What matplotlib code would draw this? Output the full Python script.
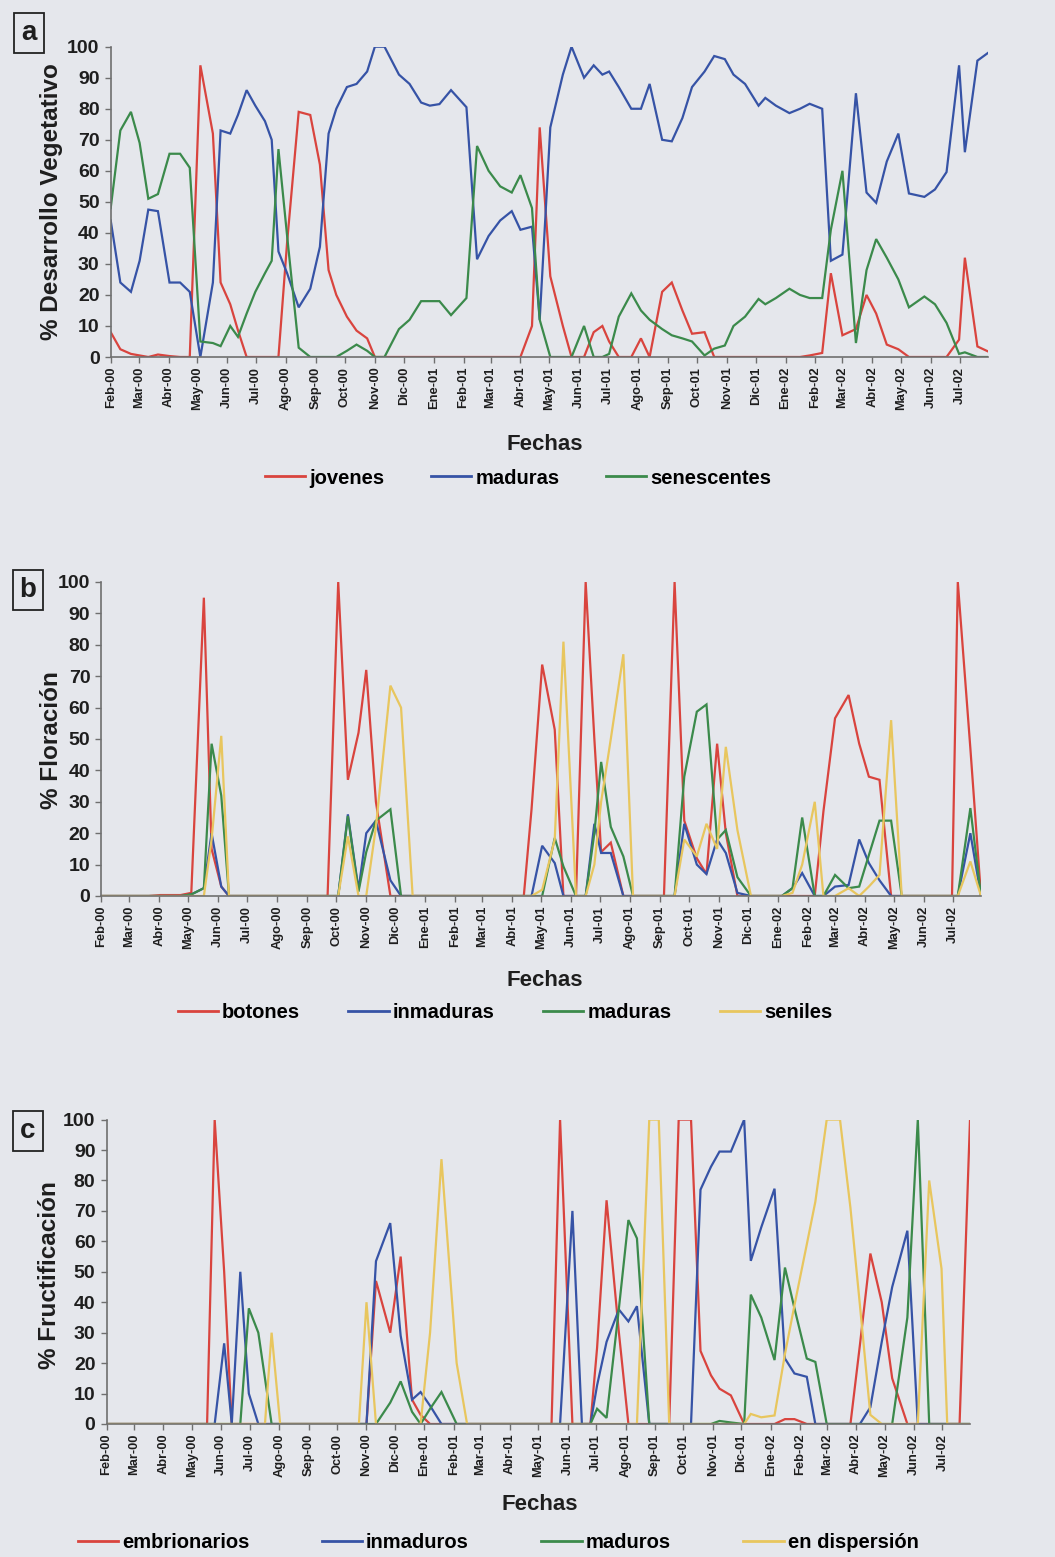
import numpy as np
import pandas as pd
import matplotlib
matplotlib.use("Agg")
import matplotlib.pyplot as plt
from matplotlib.lines import Line2D

# fechas de muestreo (dias desde 1-feb-2000)
dias = [0, 10, 21, 30, 39, 49, 61, 72, 82, 93,
        106, 114, 124, 132, 141, 150, 160, 167, 174, 183,
        195, 207, 217, 226, 234, 245, 255, 266, 274, 284,
        299, 310, 322, 331, 341, 353, 369, 380, 392, 404,
        416, 425, 437, 445, 456, 469, 478, 491, 501, 510,
        517, 527, 540, 550, 559, 572, 582, 593, 603, 616,
        626, 637, 646, 658, 672, 679, 690, 704, 715, 725,
        738, 747, 759, 773, 784, 794, 805, 817, 828, 844,
        855, 867, 880, 886, 899, 910]

meses = ['Feb-00', 'Mar-00', 'Abr-00', 'May-00', 'Jun-00', 'Jul-00', 'Ago-00', 'Sep-00',
         'Oct-00', 'Nov-00', 'Dic-00', 'Ene-01', 'Feb-01', 'Mar-01', 'Abr-01', 'May-01',
         'Jun-01', 'Jul-01', 'Ago-01', 'Sep-01', 'Oct-01', 'Nov-01', 'Dic-01', 'Ene-02',
         'Feb-02', 'Mar-02', 'Abr-02', 'May-02', 'Jun-02', 'Jul-02']

# a) desarrollo vegetativo
jovenes = [8, 2.5, 1, 0.5, 0, 0.8, 0.3, 0, 0, 94,
           72, 24, 17, 8.6, 0, 0, 0, 0, 0, 37,
           79, 78, 62, 28, 20, 13, 8.5, 6, 0, 0,
           0, 0, 0, 0, 0, 0, 0, 0, 0, 0,
           0, 0, 10, 74, 26, 10, 0, 0, 8, 10,
           5, 0, 0, 6, 0, 21, 24, 15, 7.5, 8,
           0, 0, 0, 0, 0, 0, 0, 0, 0, 0.5,
           1.3, 27, 7, 9, 20, 14, 4, 2.5, 0, 0,
           0, 0, 5.6, 32, 3.4, 1.8]
maduras_a = [44, 24, 21, 31, 47.5, 47, 24, 24, 21, 0,
             24, 73, 72, 78, 86, 81, 76, 70, 34, 27,
             16, 22, 35.5, 72, 80, 87, 88, 92, 100, 100,
             91, 88, 82, 81, 81.5, 86, 80.5, 31.5, 39, 44,
             47, 41, 42, 12, 74, 91, 100, 90, 94, 91,
             92, 87, 80, 80, 88, 70, 69.5, 77, 87, 92,
             97, 96, 91, 88, 81, 83.5, 81, 78.6, 80, 81.6,
             80, 31, 33, 85, 53, 49.7, 63, 72, 52.7, 51.6,
             54, 59.6, 94, 66, 95.5, 98]
senescentes = [48, 73, 79, 69, 51, 52.5, 65.5, 65.5, 61, 5,
               4.5, 3.5, 10, 6.5, 14, 21, 27, 31, 67, 39,
               3, 0, 0, 0, 0, 2, 4, 2, 0, 0,
               9, 12, 18, 18, 18, 13.5, 19, 68, 60, 55,
               53, 58.6, 48, 12, 0, 0, 0, 10, 0, 0,
               1, 13, 20.5, 15, 12, 9, 7, 6, 5, 0.5,
               2.7, 3.7, 10, 13, 18.7, 17, 19, 22, 20, 19,
               19, 41, 60, 4.5, 28, 38, 32, 25, 16, 19.5,
               17, 11, 1, 1.5, 0, 0]

# b) floracion
botones = [0, 0, 0, 0, 0, 0, 0.3, 0.3, 0.3, 1,
           95, 15, 3, 0, 0, 0, 0, 0, 0, 0,
           0, 0, 0, 0, 0, 100, 37, 52, 72, 30,
           0, 0, 0, 0, 0, 0, 0, 0, 0, 0,
           0, 0, 0, 27.6, 73.7, 53, 0, 0, 100, 50,
           14, 17, 0, 0, 0, 0, 0, 100, 24, 12,
           7, 48.5, 20, 0, 0, 0, 0, 0, 0, 0,
           0, 27, 56.6, 64, 48.5, 38, 37, 0, 0, 0,
           0, 0, 0, 100, 47, 0]
inmaduras = [0, 0, 0, 0, 0, 0, 0, 0, 0, 0.5,
             2.5, 20, 3, 0, 0, 0, 0, 0, 0, 0,
             0, 0, 0, 0, 0, 0, 26, 2, 20, 24,
             5, 0, 0, 0, 0, 0, 0, 0, 0, 0,
             0, 0, 0, 0, 16, 10.5, 0, 0, 0, 23,
             13.7, 13.7, 0, 0, 0, 0, 0, 0, 23, 10,
             7, 18, 13.7, 1, 0, 0, 0, 0, 2.5, 7.3,
             0, 0, 3, 3.5, 18, 10.5, 5, 0, 0, 0,
             0, 0, 0, 0, 20, 0]
maduras_b = [0, 0, 0, 0, 0, 0, 0, 0, 0, 0.5,
             2.5, 48.5, 32, 0, 0, 0, 0, 0, 0, 0,
             0, 0, 0, 0, 0, 0, 25.5, 1.4, 14, 24,
             27.6, 0, 0, 0, 0, 0, 0, 0, 0, 0,
             0, 0, 0, 0, 0, 18.5, 9.4, 0, 0, 20,
             42.7, 22, 12.6, 0, 0, 0, 0, 0, 38, 58.7,
             61, 18, 21, 6, 0, 0, 0, 0, 2.5, 25,
             0, 0, 6.7, 2.5, 3, 13, 24, 24, 0, 0,
             0, 0, 0, 0, 28, 0]
seniles = [0, 0, 0, 0, 0, 0, 0, 0, 0, 0,
           0, 18, 51, 0, 0, 0, 0, 0, 0, 0,
           0, 0, 0, 0, 0, 0, 19, 0, 0, 22,
           67, 60, 0, 0, 0, 0, 0, 0, 0, 0,
           0, 0, 0, 0, 2, 18, 81, 0, 0, 10,
           30, 50, 77, 0, 0, 0, 0, 0, 18, 12.6,
           23, 15, 47.5, 21, 0, 0, 0, 0, 1, 10,
           30, 0, 0, 2.5, 0, 3, 6.7, 56, 0, 0,
           0, 0, 0, 0, 11, 0]

# c) fructificacion
embrionarios = [0, 0, 0, 0, 0, 0, 0, 0, 0, 0,
                0, 100, 50, 0, 0, 0, 0, 0, 0, 0,
                0, 0, 0, 0, 0, 0, 0, 0, 0, 47,
                30, 55, 8, 3, 0, 0, 0, 0, 0, 0,
                0, 0, 0, 0, 0, 0, 100, 0, 0, 0,
                25, 73.5, 30, 0, 0, 0, 0, 0, 100, 100,
                24, 16, 11.6, 9.4, 0, 0, 0, 0, 1.6, 1.6,
                0, 0, 0, 0, 0, 26, 56, 40, 15, 0,
                0, 0, 0, 0, 0, 100]
inmaduros = [0, 0, 0, 0, 0, 0, 0, 0, 0, 0,
             0, 0, 26.5, 0, 50, 10, 0, 0, 0, 0,
             0, 0, 0, 0, 0, 0, 0, 0, 0, 53.5,
             66, 29, 8, 10.5, 6, 0, 0, 0, 0, 0,
             0, 0, 0, 0, 0, 0, 0, 70, 0, 0,
             12.7, 27, 37.6, 33.7, 38.7, 0, 0, 0, 0, 0,
             77, 84.5, 89.5, 89.5, 100, 53.6, 64.6, 77.3, 21.5, 16.6,
             15.5, 0, 0, 0, 0, 0, 5.5, 27, 45, 63.5,
             0, 0, 0, 0, 0, 0]
maduros = [0, 0, 0, 0, 0, 0, 0, 0, 0, 0,
           0, 0, 0, 0, 0, 38, 30, 15, 0, 0,
           0, 0, 0, 0, 0, 0, 0, 0, 0, 0,
           7, 14, 4, 0, 5, 10.5, 0, 0, 0, 0,
           0, 0, 0, 0, 0, 0, 0, 0, 0, 0,
           5, 2, 38, 67, 61, 0, 0, 0, 0, 0,
           0, 0, 1, 0.5, 0, 42.5, 35, 21, 51.4, 38,
           21.5, 20.4, 0, 0, 0, 0, 0, 0, 0, 35,
           100, 0, 0, 0, 0, 0]
en_dispersion = [0, 0, 0, 0, 0, 0, 0, 0, 0, 0,
                 0, 0, 0, 0, 0, 0, 0, 0, 30, 0,
                 0, 0, 0, 0, 0, 0, 0, 0, 40, 0,
                 0, 0, 0, 0, 30, 87, 20, 0, 0, 0,
                 0, 0, 0, 0, 0, 0, 0, 0, 0, 0,
                 0, 0, 0, 0, 0, 100, 100, 0, 0, 0,
                 0, 0, 0, 0, 0, 3.3, 2.2, 2.8, 23, 39,
                 59, 73, 100, 100, 71, 39, 3, 0, 0, 0,
                 0, 80, 51, 0, 0, 0]

ROJO, AZUL, VERDE, AMARILLO = '#d9443e', '#3653a6', '#3b8a4b', '#e8c65e'
BG = '#e5e7ec'
FAM = ['Liberation Sans', 'DejaVu Sans']

fechas = pd.Timestamp('2000-02-01') + pd.to_timedelta(dias, unit='D')
ticks = pd.date_range('2000-02-01', periods=len(meses), freq='MS')

W, H = 1055, 1557
fig = plt.figure(figsize=(W / 100, H / 100), dpi=100, facecolor=BG)


def panel(box, series, colores, nombres, ylabel, letra, letra_xy, ylab_xy, fechas_xy, leg_xy, colsp):
    left, right, top, bottom = box
    ax = fig.add_axes([left / W, 1 - bottom / H, (right - left) / W, (bottom - top) / H])
    ax.set_facecolor('none')
    for vals, c in zip(series, colores):
        ax.plot(fechas, vals, color=c, lw=1.6, solid_joinstyle='miter')
    ax.set_xlim(fechas[0], fechas[-1])
    ax.set_ylim(0, 100)
    ax.set_yticks(range(0, 101, 10))
    ax.set_yticklabels([str(v) for v in range(0, 101, 10)], fontsize=14,
                       fontweight='bold', family=FAM, color='#1e1e1e')
    ax.set_xticks(ticks)
    ax.set_xticklabels(meses, rotation=90, fontsize=9.3, fontweight='bold',
                       family=FAM, color='#1e1e1e')
    for s in ['top', 'right']:
        ax.spines[s].set_visible(False)
    for s in ['left', 'bottom']:
        ax.spines[s].set_color('#6f6f6f')
        ax.spines[s].set_linewidth(1.2)
    ax.tick_params(axis='both', color='#6f6f6f', length=4, width=1)
    ax.tick_params(axis='y', pad=4)
    ax.tick_params(axis='x', pad=3)

    fig.text(ylab_xy[0] / W, 1 - ylab_xy[1] / H, ylabel, rotation=90, ha='center', va='center',
             fontsize=17.5, fontweight='bold', family=FAM, color='#1e1e1e')
    fig.text(letra_xy[0] / W, 1 - letra_xy[1] / H, letra, ha='center', va='center',
             fontsize=20, fontweight='bold', family=FAM, color='#1e1e1e',
             bbox=dict(boxstyle='square,pad=0.25', fc='none', ec='#222222', lw=1.3))
    fig.text(fechas_xy[0] / W, 1 - fechas_xy[1] / H, 'Fechas', ha='center', va='center',
             fontsize=16, fontweight='bold', family=FAM, color='#1e1e1e')
    handles = [Line2D([], [], color=c, lw=2) for c in colores]
    fig.legend(handles, nombres, loc='center', bbox_to_anchor=(leg_xy[0] / W, 1 - leg_xy[1] / H),
               ncol=len(nombres), frameon=False, handlelength=2.0, handletextpad=0.2,
               columnspacing=colsp, prop={'family': FAM, 'weight': 'bold', 'size': 14.5})
    return ax


panel((110.7, 988, 46.7, 357), [jovenes, maduras_a, senescentes], [ROJO, AZUL, VERDE],
      ['jovenes', 'maduras', 'senescentes'], '% Desarrollo Vegetativo', 'a',
      (29, 33), (52, 202), (545, 445), (518, 478), 2.3)

panel((101.4, 981, 582, 896), [botones, inmaduras, maduras_b, seniles],
      [ROJO, AZUL, VERDE, AMARILLO], ['botones', 'inmaduras', 'maduras', 'seniles'],
      '% Floración', 'b', (28, 590), (52, 740), (545, 980), (505, 1013), 2.4)

panel((106.5, 970, 1119.6, 1424), [embrionarios, inmaduros, maduros, en_dispersion],
      [ROJO, AZUL, VERDE, AMARILLO], ['embrionarios', 'inmaduros', 'maduros', 'en dispersión'],
      '% Fructificación', 'c', (28, 1131), (50, 1275), (540, 1505), (498, 1543), 3.6)

fig.savefig('out.png', dpi=100, facecolor=BG)
